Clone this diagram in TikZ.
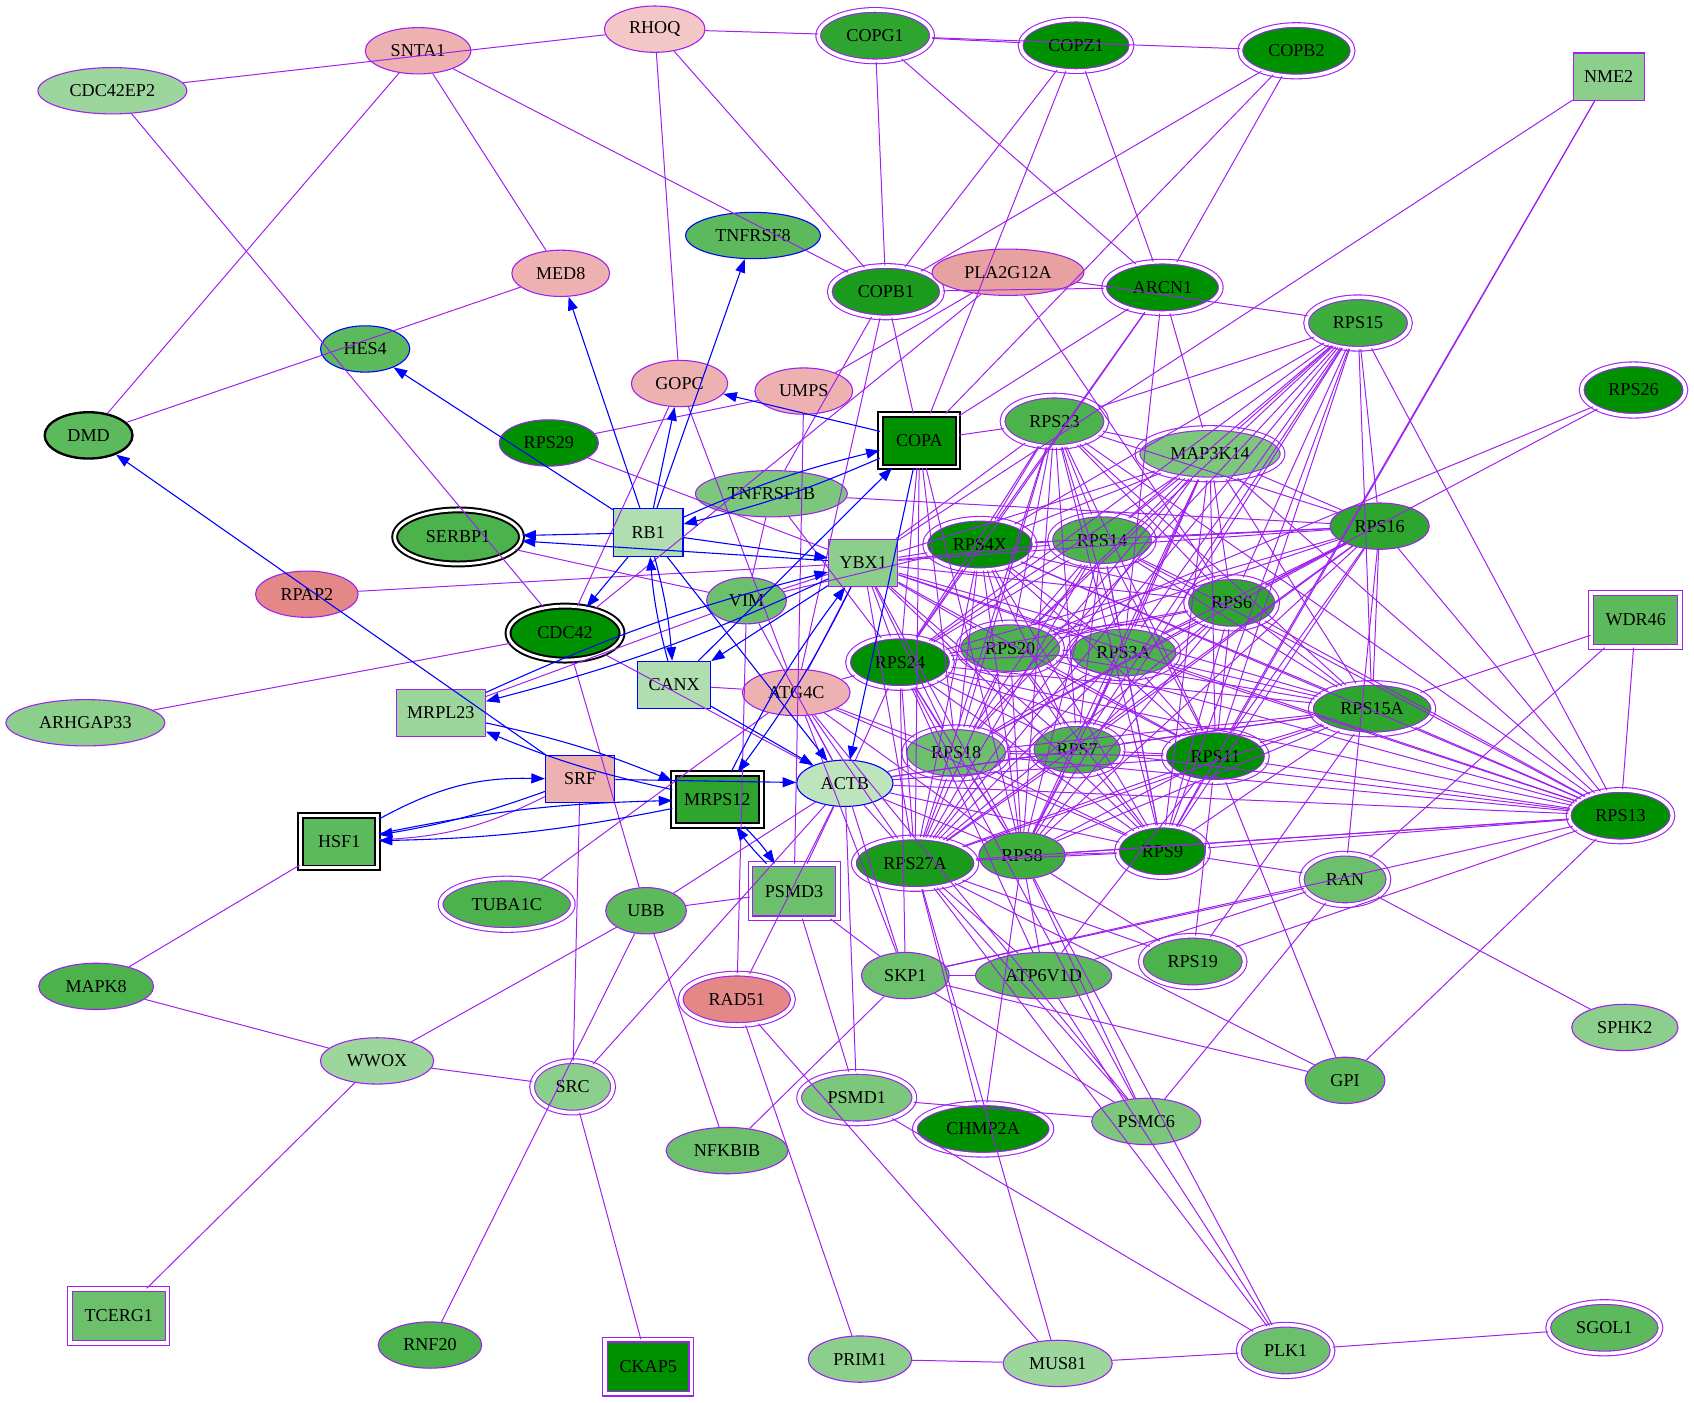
\documentclass[tikz,border=0pt]{standalone}
\usepackage{fontspec}
\setmainfont{Liberation Serif}
\usetikzlibrary{shapes.geometric,arrows.meta}

\definecolor{pplc}{HTML}{A020F0}
\definecolor{gA}{HTML}{009100}
\definecolor{gB}{HTML}{1B9B1B}
\definecolor{gC}{HTML}{2EA52E}
\definecolor{gD}{HTML}{3DAD3D}
\definecolor{gE}{HTML}{4CB34C}
\definecolor{gF}{HTML}{5CBA5C}
\definecolor{gG}{HTML}{6CC06C}
\definecolor{gH}{HTML}{7CC77C}
\definecolor{gI}{HTML}{8CCF8C}
\definecolor{gJ}{HTML}{9CD69C}
\definecolor{gK}{HTML}{B0DEB0}
\definecolor{gL}{HTML}{BEE4BE}
\definecolor{pA}{HTML}{F4C7C7}
\definecolor{pB}{HTML}{EEB1B1}
\definecolor{pC}{HTML}{E8A1A1}
\definecolor{pD}{HTML}{E38787}

\begin{document}
\begin{tikzpicture}[x=0.021cm,y=-0.021cm,font=\fontsize{10}{12}\selectfont]
  \tikzset{gn/.style={ellipse,draw=pplc,line width=0.6pt,minimum height=0.9cm,minimum width=1.55cm,inner xsep=5.5pt},
    gnd/.style={gn,double=white,double distance=2pt,minimum height=1cm,inner xsep=6.4pt},
    gnk/.style={gn,draw=black,line width=1.1pt,double=white,double distance=1.6pt,minimum height=1.05cm,inner xsep=7pt},
    bx/.style={rectangle,draw=pplc,line width=0.6pt,minimum width=1.35cm,minimum height=0.92cm,inner xsep=6pt},
    bxd/.style={bx,double=white,double distance=2pt,minimum height=1.05cm,inner xsep=8pt},
    bxk/.style={bx,draw=black,line width=1.1pt,double=white,double distance=1.5pt,minimum width=1.5cm,minimum height=1.02cm},
    pe/.style={draw=pplc,line width=0.55pt},
    be/.style={draw=blue,line width=0.6pt,-{Triangle[length=7.5pt,width=5.5pt]}}}
  \useasboundingbox (0,0) rectangle (1568,1298);

  % genes
  \node[gn,fill=pB] (SNTA1) at (387,47) {SNTA1};
  \node[gn,fill=gJ] (CDC42EP2) at (104,84) {CDC42EP2};
  \node[gn,fill=pA] (RHOQ) at (606,27) {RHOQ};
  \node[gnd,fill=gC] (COPG1) at (810,33) {COPG1};
  \node[gnd,fill=gA] (COPZ1) at (996,42) {COPZ1};
  \node[gnd,fill=gA] (COPB2) at (1200,47) {COPB2};
  \node[bx,fill=gI] (NME2) at (1489,71) {NME2};
  \node[gn,fill=gF,draw=blue] (TNFRSF8) at (697,218) {TNFRSF8};
  \node[gn,fill=pB] (MED8) at (519,253) {MED8};
  \node[gnd,fill=gB] (COPB1) at (820,270) {COPB1};
  \node[gn,fill=pC] (PLA2G12A) at (933,252) {PLA2G12A};
  \node[gnd,fill=gA] (ARCN1) at (1076,266) {ARCN1};
  \node[gnd,fill=gD] (RPS15) at (1257,299) {RPS15};
  \node[gn,fill=gF,draw=blue] (HES4) at (338,323) {HES4};
  \node[gn,fill=pB] (GOPC) at (629,355) {GOPC};
  \node[gn,fill=pB] (UMPS) at (744,362) {UMPS};
  \node[gnd,fill=gA] (RPS26) at (1512,361) {RPS26};
  \node[gn,fill=gF,draw=black,line width=1.3pt] (DMD) at (82,403) {DMD};
  \node[gn,fill=gA] (RPS29) at (508,410) {RPS29};
  \node[bxk,fill=gA] (COPA) at (851,408) {COPA};
  \node[gnd,fill=gE] (RPS23) at (976,390) {RPS23};
  \node[gnd,fill=gH] (MAP3K14) at (1120,420) {MAP3K14};
  \node[gn,fill=gH] (TNFRSF1B) at (714,457) {TNFRSF1B};
  \node[bx,fill=gK,draw=blue] (RB1) at (600,493) {RB1};
  \node[gnk,fill=gE] (SERBP1) at (424,497) {SERBP1};
  \node[bx,fill=gI] (YBX1) at (799,521) {YBX1};
  \node[gnd,fill=gA] (RPS4X) at (907,504) {RPS4X};
  \node[gnd,fill=gE] (RPS14) at (1020,500) {RPS14};
  \node[gn,fill=gC] (RPS16) at (1277,487) {RPS16};
  \node[gn,fill=pD] (RPAP2) at (284,550) {RPAP2};
  \node[gn,fill=gG] (VIM) at (691,556) {VIM};
  \node[gnk,fill=gA] (CDC42) at (523,586) {CDC42};
  \node[gnd,fill=gC] (RPS6) at (1140,558) {RPS6};
  \node[bxd,fill=gF] (WDR46) at (1514,574) {WDR46};
  \node[gnd,fill=gA] (RPS24) at (833,613) {RPS24};
  \node[gnd,fill=gE] (RPS20) at (935,600) {RPS20};
  \node[gnd,fill=gE] (RPS3A) at (1040,604) {RPS3A};
  \node[bx,fill=gK,draw=blue] (CANX) at (624,634) {CANX};
  \node[gn,fill=pB] (ATG4C) at (737,641) {ATG4C};
  \node[gn,fill=gI] (ARHGAP33) at (79,669) {ARHGAP33};
  \node[bx,fill=gJ] (MRPL23) at (408,660) {MRPL23};
  \node[gnd,fill=gC] (RPS15A) at (1270,656) {RPS15A};
  \node[gnd,fill=gG] (RPS18) at (885,697) {RPS18};
  \node[gnd,fill=gE] (RPS7) at (997,694) {RPS7};
  \node[gnd,fill=gA] (RPS11) at (1125,700) {RPS11};
  \node[bx,fill=pB,draw=blue] (SRF) at (537,721) {SRF};
  \node[bxk,fill=gC] (MRPS12) at (664,740) {MRPS12};
  \node[gn,fill=gL,draw=blue] (ACTB) at (782,725) {ACTB};
  \node[bxk,fill=gF] (HSF1) at (314,779) {HSF1};
  \node[gnd,fill=gB] (RPS27A) at (847,799) {RPS27A};
  \node[gn,fill=gD] (RPS8) at (946,792) {RPS8};
  \node[gnd,fill=gA] (RPS9) at (1076,788) {RPS9};
  \node[gnd,fill=gA] (RPS13) at (1500,755) {RPS13};
  \node[gnd,fill=gG] (RAN) at (1245,814) {RAN};
  \node[gnd,fill=gE] (TUBA1C) at (469,837) {TUBA1C};
  \node[gn,fill=gF] (UBB) at (598,843) {UBB};
  \node[bxd,fill=gG] (PSMD3) at (735,825) {PSMD3};
  \node[gnd,fill=gE] (RPS19) at (1104,890) {RPS19};
  \node[gn,fill=gE] (MAPK8) at (89,913) {MAPK8};
  \node[gn,fill=gG] (SKP1) at (838,903) {SKP1};
  \node[gn,fill=gF] (ATP6V1D) at (966,903) {ATP6V1D};
  \node[gnd,fill=pD] (RAD51) at (682,925) {RAD51};
  \node[gn,fill=gI] (SPHK2) at (1504,951) {SPHK2};
  \node[gn,fill=gJ] (WWOX) at (349,982) {WWOX};
  \node[gnd,fill=gI] (SRC) at (530,1006) {SRC};
  \node[gn,fill=gF] (GPI) at (1245,1000) {GPI};
  \node[gnd,fill=gH] (PSMD1) at (793,1016) {PSMD1};
  \node[gnd,fill=gA] (CHMP2A) at (910,1045) {CHMP2A};
  \node[gn,fill=gH] (PSMC6) at (1061,1038) {PSMC6};
  \node[gn,fill=gG] (NFKBIB) at (673,1065) {NFKBIB};
  \node[bxd,fill=gG] (TCERG1) at (110,1218) {TCERG1};
  \node[gn,fill=gE] (RNF20) at (398,1245) {RNF20};
  \node[bxd,fill=gA] (CKAP5) at (600,1265) {CKAP5};
  \node[gn,fill=gI] (PRIM1) at (796,1258) {PRIM1};
  \node[gn,fill=gJ] (MUS81) at (979,1262) {MUS81};
  \node[gnd,fill=gG] (PLK1) at (1190,1250) {PLK1};
  \node[gnd,fill=gF] (SGOL1) at (1485,1229) {SGOL1};

  % ribosomal block
  \def\ribs{RPS15,RPS23,MAP3K14,RPS4X,RPS14,RPS16,RPS6,RPS24,RPS20,RPS3A,RPS15A,RPS18,RPS7,RPS11,RPS8,RPS9,RPS13,RPS27A}
  \foreach\a[count=\i] in \ribs{\foreach\b[count=\j] in \ribs{\ifnum\j>\i \draw[pe] (\a) -- (\b);\fi}}

  % interactions
  \foreach \a/\b in {CDC42EP2/RHOQ,CDC42EP2/CDC42,SNTA1/DMD,SNTA1/MED8,SNTA1/COPB1,RHOQ/COPG1,RHOQ/GOPC,RHOQ/COPB1,
    COPG1/COPZ1,COPG1/COPB2,COPG1/COPB1,COPG1/ARCN1,COPZ1/COPB1,COPZ1/COPA,COPZ1/ARCN1,
    COPB2/COPB1,COPB2/COPA,COPB2/ARCN1,COPB1/ARCN1,COPB1/COPA,COPB1/TNFRSF1B,COPB1/ATG4C,
    PLA2G12A/UMPS,PLA2G12A/CDC42,PLA2G12A/RPS6,PLA2G12A/RPS15,
    ARCN1/COPA,ARCN1/RPS4X,ARCN1/RPS3A,ARCN1/MAP3K14,ARCN1/RPS24,
    NME2/YBX1,NME2/RPS11,NME2/RPS9,RPS26/RPS6,RPS26/RPS20,WDR46/RPS15A,WDR46/RAN,WDR46/RPS13,
    DMD/MED8,CDC42/ARHGAP33,CDC42/UBB,CDC42/ACTB,MRPL23/VIM,GOPC/CDC42,GOPC/ATG4C,UMPS/PSMD3,
    RPS29/UMPS,RPS29/YBX1,RPAP2/YBX1,SERBP1/VIM,CANX/ATG4C,RAD51/VIM,RAD51/ACTB,
    UBB/RNF20,UBB/NFKBIB,UBB/WWOX,UBB/PSMD3,UBB/ACTB,TUBA1C/ATG4C,SRF/SRC,SRC/ACTB,SRC/WWOX,SRC/CKAP5,
    WWOX/MAPK8,WWOX/TCERG1,MAPK8/HSF1,RAD51/PRIM1,RAD51/MUS81,PSMD3/PSMD1,PSMD3/SKP1,PSMD1/ACTB,
    PSMD1/PSMC6,PSMD1/PLK1,NFKBIB/SKP1,CHMP2A/RPS27A,CHMP2A/RPS8,RPS27A/MUS81,
    PLK1/MUS81,PLK1/SGOL1,PLK1/ATP6V1D,PLK1/RPS8,PLK1/RPS27A,PRIM1/MUS81,
    GPI/RPS13,GPI/RPS11,GPI/RPS27A,GPI/SKP1,SPHK2/RAN,RAN/PSMC6,RAN/SKP1,RAN/RPS9,RAN/RPS16,
    PSMC6/SKP1,PSMC6/RPS27A,PSMC6/RPS8,PSMC6/RPS24,SKP1/ATP6V1D,SKP1/RPS13,SKP1/ACTB,SKP1/RPS24,
    ATP6V1D/RPS8,ATP6V1D/RPS11,ATP6V1D/RAN,ATP6V1D/RPS27A,ATP6V1D/RPS24,
    RPS19/RPS11,RPS19/RPS15A,RPS19/RPS8,RPS19/RPS27A,RPS19/RPS13,
    TNFRSF1B/RPS16,TNFRSF1B/VIM,TNFRSF1B/RPS24,VIM/ACTB,VIM/RPS4X,
    ATG4C/RPS24,ATG4C/RPS18,ATG4C/RPS27A,ATG4C/RPS8,ATG4C/RPS9,ATG4C/SKP1,ATG4C/PSMC6,ATG4C/ACTB,
    COPA/RPS24,COPA/RPS27A,COPA/RPS8,COPA/RPS23,COPA/RPS18,
    ACTB/RPS13,ACTB/RPS24,ACTB/RPS18,ACTB/RPS7,ACTB/RPS11,ACTB/RPS27A,ACTB/RPS8,ACTB/RPS9,ACTB/RPS15A,ACTB/PSMD3,
    YBX1/RPS4X,YBX1/RPS14,YBX1/RPS16,YBX1/RPS6,YBX1/RPS24,YBX1/RPS20,YBX1/RPS3A,YBX1/RPS18,YBX1/RPS7,
    YBX1/RPS11,YBX1/RPS8,YBX1/RPS27A,YBX1/RPS9,YBX1/RPS13,YBX1/RPS15A,YBX1/RPS23,YBX1/MAP3K14,YBX1/ATG4C,YBX1/VIM}
    \draw[pe] (\a) -- (\b);
  \draw[pe] (HSF1) to[bend right=12] (SRF);

  % regulation
  \foreach \a/\b in {RB1/HES4,RB1/MED8,RB1/TNFRSF8,RB1/GOPC,COPA/GOPC,RB1/SERBP1,YBX1/SERBP1,RB1/YBX1,
    RB1/CDC42,RB1/ACTB,CANX/COPA,YBX1/CANX,CANX/ACTB,SRF/DMD,SRF/ACTB,COPA/ACTB}
    \draw[be] (\a) -- (\b);
  \foreach \a/\b in {RB1/CANX,CANX/RB1,YBX1/MRPL23,MRPL23/YBX1,MRPL23/MRPS12,MRPS12/MRPL23,MRPS12/YBX1,YBX1/MRPS12,
    MRPS12/PSMD3,PSMD3/MRPS12,RB1/COPA,COPA/RB1,MRPS12/HSF1,HSF1/MRPS12,SRF/HSF1}
    \draw[be] (\a) to[bend left=5] (\b);
  \draw[be] (HSF1) to[bend left=15] (SRF);
\end{tikzpicture}
\end{document}
